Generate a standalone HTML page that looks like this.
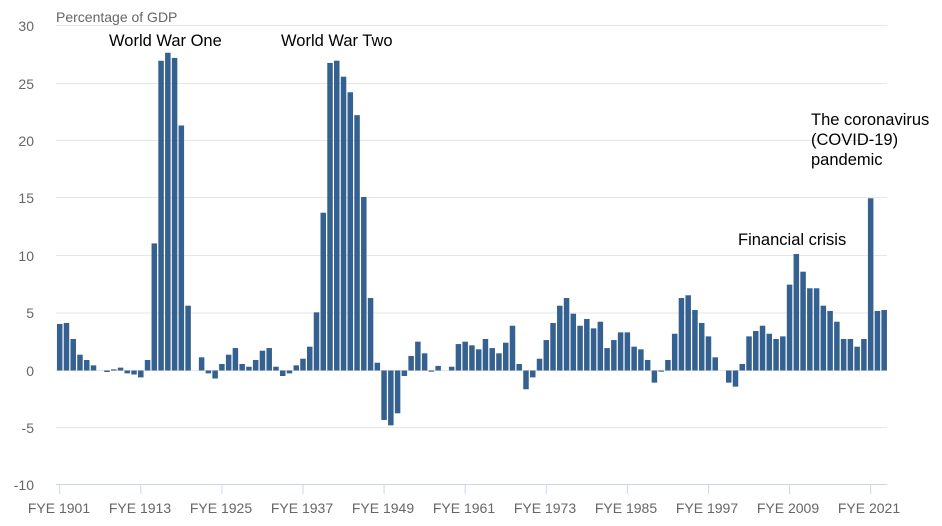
<!DOCTYPE html>
<html><head><meta charset="utf-8"><style>
html,body{margin:0;padding:0;background:#fff;}
svg{display:block;font-family:"Liberation Sans",sans-serif;}
</style></head><body>
<svg id="c" width="942" height="526" viewBox="0 0 942 526" xmlns="http://www.w3.org/2000/svg">
<defs><clipPath id="tc"><rect x="0" y="11" width="400" height="20"/></clipPath></defs>
<g stroke="#e6e6e6" stroke-width="1">
<line x1="56" x2="887" y1="25.5" y2="25.5"/>
<line x1="56" x2="887" y1="83.5" y2="83.5"/>
<line x1="56" x2="887" y1="140.5" y2="140.5"/>
<line x1="56" x2="887" y1="197.5" y2="197.5"/>
<line x1="56" x2="887" y1="255.5" y2="255.5"/>
<line x1="56" x2="887" y1="313" y2="313"/>
<line x1="56" x2="887" y1="370.5" y2="370.5"/>
<line x1="56" x2="887" y1="427.5" y2="427.5"/>
</g>
<line x1="56" x2="887" y1="484.5" y2="484.5" stroke="#ccd6eb" stroke-width="1"/>
<g id="bars" fill="#34618f"></g>
<g stroke="#ccd6eb" stroke-width="1" id="ticks"></g>
<g fill="#666" font-size="14" text-anchor="end">
<text x="34" y="31">30</text>
<text x="34" y="89">25</text>
<text x="34" y="146">20</text>
<text x="34" y="203">15</text>
<text x="34" y="261">10</text>
<text x="34" y="318">5</text>
<text x="34" y="376">0</text>
<text x="34" y="433">-5</text>
<text x="34" y="490">-10</text>
</g>
<text x="56" y="22" fill="#666" font-size="14" clip-path="url(#tc)">Percentage of GDP</text>
<g fill="#666" font-size="14" text-anchor="middle">
<text x="59" y="513">FYE 1901</text>
<text x="140" y="513">FYE 1913</text>
<text x="221" y="513">FYE 1925</text>
<text x="302" y="513">FYE 1937</text>
<text x="383" y="513">FYE 1949</text>
<text x="464" y="513">FYE 1961</text>
<text x="545" y="513">FYE 1973</text>
<text x="626" y="513">FYE 1985</text>
<text x="707" y="513">FYE 1997</text>
<text x="788" y="513">FYE 2009</text>
<text x="869" y="513">FYE 2021</text>
</g>
<g fill="#000" font-size="16.5">
<text x="109" y="46">World War One</text>
<text x="281" y="46">World War Two</text>
<text x="738" y="245">Financial crisis</text>
<text x="811" y="125">The coronavirus</text>
<text x="811" y="145">(COVID-19)</text>
<text x="811" y="165">pandemic</text>
</g>
</svg>
<script>
var v=[4.06,4.15,2.75,1.38,0.92,0.45,0,-0.13,0.1,0.25,-0.25,-0.35,-0.6,0.92,11.1,27.05,27.75,27.3,21.4,5.66,0,1.15,-0.25,-0.7,0.57,1.38,1.96,0.57,0.33,0.92,1.73,1.96,0.33,-0.48,-0.25,0.45,1.03,2.08,5.08,13.78,26.86,27.06,25.66,24.3,22.3,15.15,6.33,0.68,-4.32,-4.79,-3.74,-0.48,1.27,2.52,1.5,-0.1,0.4,0,0.33,2.31,2.52,2.2,1.85,2.75,1.96,1.5,2.43,3.91,0.57,-1.64,-0.6,1.03,2.66,4.15,5.66,6.33,4.96,3.91,4.5,3.68,4.26,1.96,2.66,3.33,3.33,2.08,1.85,0.92,-1.06,-0.1,0.92,3.21,6.33,6.57,5.28,4.15,2.98,1.15,0,-1.06,-1.41,0.57,2.98,3.45,3.91,3.21,2.75,2.98,7.5,10.17,8.63,7.18,7.18,5.66,5.2,4.26,2.75,2.75,2.08,2.75,15.04,5.2,5.28];
var ns="http://www.w3.org/2000/svg",g=document.getElementById("bars"),t=document.getElementById("ticks");
var z=370.5,s=11.45,step=6.758,x0=59.7;
for(var i=0;i<v.length;i++){if(v[i]===0)continue;var cx=x0+i*step;var h=Math.abs(v[i])*s;var r=document.createElementNS(ns,"rect");
r.setAttribute("x",(cx-2.75).toFixed(2));r.setAttribute("width","5.5");
r.setAttribute("y",(v[i]>0?z-h:z).toFixed(2));r.setAttribute("height",Math.max(h,1).toFixed(2));g.appendChild(r);}
for(var k=0;k<=10;k++){var cx=x0+k*12*step;var l=document.createElementNS(ns,"line");l.setAttribute("x1",cx);l.setAttribute("x2",cx);l.setAttribute("y1",484.5);l.setAttribute("y2",494);t.appendChild(l);}
</script>
</body></html>
